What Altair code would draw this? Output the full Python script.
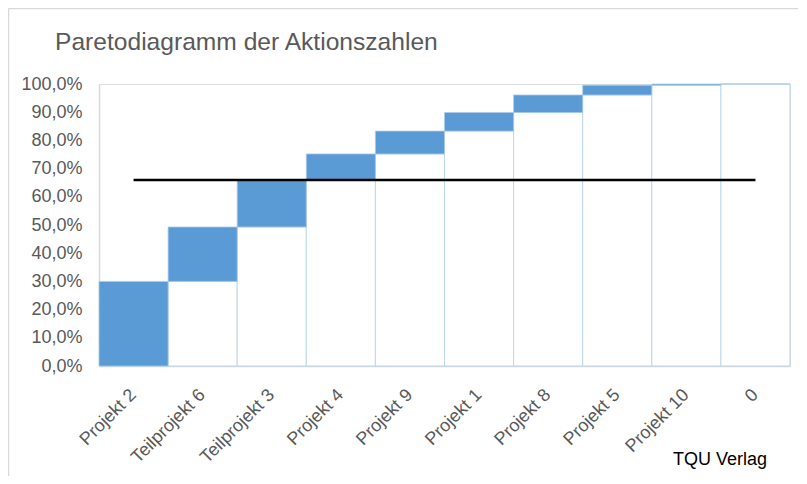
import altair as alt
import pandas as pd

# ---- data ----
kategorien = ["Projekt 2", "Teilprojekt 6", "Teilprojekt 3", "Projekt 4", "Projekt 9",
              "Projekt 1", "Projekt 8", "Projekt 5", "Projekt 10", "0"]
kumuliert = [0.300, 0.493, 0.660, 0.752, 0.833, 0.899, 0.961, 0.996, 1.000, 1.000]
schwelle = 0.66
y_ticks = [0.0, 0.1, 0.2, 0.3, 0.4, 0.5, 0.6, 0.7, 0.8, 0.9, 1.0]

start = [0.0] + kumuliert[:-1]
df = pd.DataFrame({
    "kategorie": kategorien,
    "start": start,
    "kumuliert": kumuliert,
    "schwelle": [schwelle] * len(kategorien),
})

FONT = "Liberation Sans"
GREY = "#595959"

x_enc = alt.X("kategorie:N", sort=kategorien,
              scale=alt.Scale(paddingInner=0, paddingOuter=0),
              axis=alt.Axis(title=None, labelAngle=-45, labelAlign="right",
                            labelBaseline="middle", labelPadding=26,
                            labelFontSize=18, labelFont=FONT, labelColor=GREY,
                            ticks=False, domainColor="#D9D9D9", domainWidth=1.5))
y_scale = alt.Scale(domain=[0, 1], nice=False)
y_axis = alt.Axis(title=None, values=y_ticks, grid=False, ticks=False,
                  labelExpr="replace(format(datum.value, '.1%'), '.', ',')",
                  labelFontSize=18, labelFont=FONT, labelColor=GREY,
                  labelPadding=17, domainColor="#D9D9D9", domainWidth=1.5)

base = alt.Chart(df)

basis = base.mark_bar(color="white", stroke="#BDD7EE", strokeWidth=1).encode(
    x=x_enc,
    y=alt.Y("start:Q", scale=y_scale, axis=y_axis),
    y2="zero:Q",
).transform_calculate(zero="0")

balken = base.mark_bar(color="#5B9BD5", stroke="#A9CBEA", strokeWidth=0.8).encode(
    x=x_enc,
    y=alt.Y("start:Q", scale=y_scale, axis=y_axis),
    y2="kumuliert:Q",
)

linie = base.mark_line(color="black", strokeWidth=2.5).encode(
    x=x_enc,
    y=alt.Y("schwelle:Q", scale=y_scale, axis=y_axis),
)

one = pd.DataFrame({"a": [0]})
titel = alt.Chart(one).mark_text(text="Paretodiagramm der Aktionszahlen", font=FONT,
                                 fontSize=24.6, color=GREY, align="left",
                                 baseline="alphabetic").encode(
    x=alt.value(-44), y=alt.value(-34))
quelle = alt.Chart(one).mark_text(text="TQU Verlag", font=FONT, fontSize=18,
                                  color="black", align="left",
                                  baseline="alphabetic").encode(
    x=alt.value(574), y=alt.value(381))

rand_oben = alt.Chart(one).mark_rule(color="#D9D9D9", strokeWidth=1.5).encode(
    x=alt.value(-90.5), x2=alt.value(699), y=alt.value(-75.5))
rand_links = alt.Chart(one).mark_rule(color="#D9D9D9", strokeWidth=1.5).encode(
    x=alt.value(-90.5), y=alt.value(-75.5), y2=alt.value(392))

chart = alt.layer(basis, balken, linie, titel, quelle, rand_oben, rand_links).properties(
    width=691, height=282,
    padding={"left": 91, "top": 76, "right": 8, "bottom": 110},
    autosize=alt.AutoSizeParams(type="none"),
).configure_view(stroke="#D9D9D9", strokeWidth=1.5).configure(background="white")

chart.save("out.html", embed_options={"renderer": "svg", "actions": False})
